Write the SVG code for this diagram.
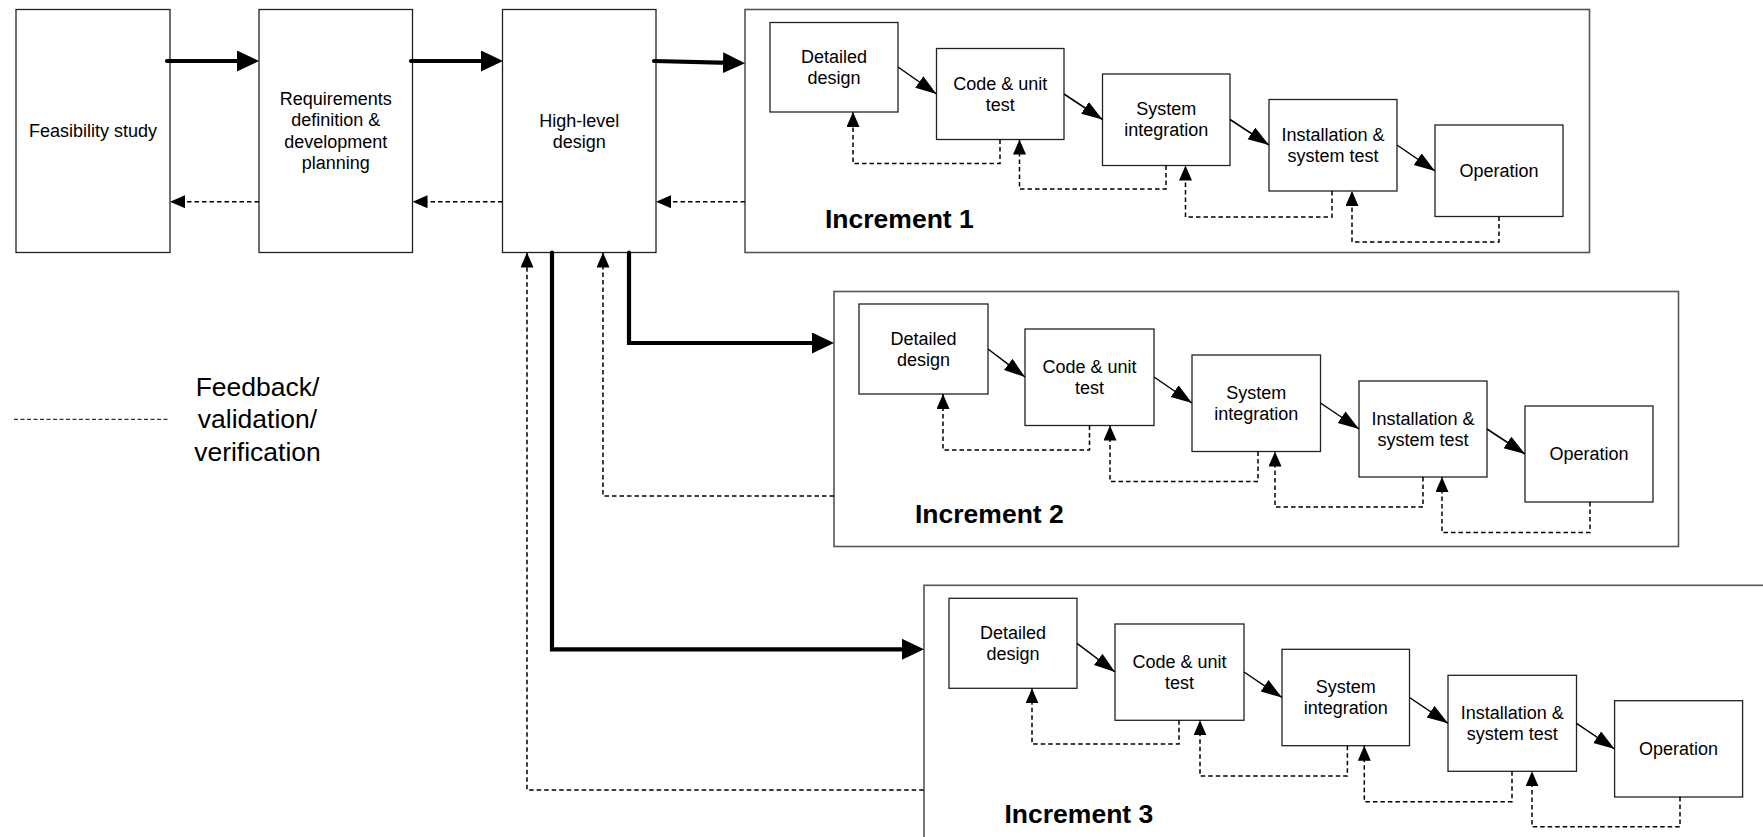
<svg xmlns="http://www.w3.org/2000/svg" width="1763" height="837" viewBox="0 0 1763 837">
  <style>
    .box { fill: #fff; stroke: #222; stroke-width: 1.3; }
    .frame { fill: #fff; stroke: #555; stroke-width: 1.6; }
    .lbl { font-family: "Liberation Sans", Arial, sans-serif; font-size: 18px; text-anchor: middle; fill: #000; }
    .inc { font-family: "Liberation Sans", Arial, sans-serif; font-size: 26.5px; font-weight: bold; fill: #000; }
    .legend { font-family: "Liberation Sans", Arial, sans-serif; font-size: 26.5px; text-anchor: middle; fill: #000; }
    .flow { fill: none; stroke: #000; stroke-width: 1.5; marker-end: url(#ah); }
    .fb { fill: none; stroke: #000; stroke-width: 1.5; stroke-dasharray: 4.5 3; marker-end: url(#ahd); }
    .main { fill: none; stroke: #000; stroke-width: 4.2; stroke-linecap: round; stroke-linejoin: miter; marker-end: url(#ahb); }
  </style>
  <defs>
    <!-- thin solid arrowhead -->
    <marker id="ah" markerUnits="userSpaceOnUse" markerWidth="22" markerHeight="15" refX="21" refY="7" orient="auto">
      <path d="M0,0 L21,7 L0,14 Z" fill="#000"/>
    </marker>
    <!-- dashed feedback arrowhead -->
    <marker id="ahd" markerUnits="userSpaceOnUse" markerWidth="16" markerHeight="14" refX="15" refY="6.5" orient="auto">
      <path d="M0,0 L15,6.5 L0,13 Z" fill="#000"/>
    </marker>
    <!-- thick arrowhead; tip lies 15 units past the line end -->
    <marker id="ahb" markerUnits="userSpaceOnUse" markerWidth="23" markerHeight="21" refX="7" refY="10.5" orient="auto">
      <path d="M0,0 L22,10.5 L0,21 Z" fill="#000"/>
    </marker>
  </defs>

  <rect width="1763" height="837" fill="#fff"/>

  <!-- Increment frames -->
  <g id="increment1">
    <rect class="frame" x="745" y="9.5" width="844.5" height="243"/>
    <text class="inc" x="825" y="228">Increment 1</text>
  </g>
  <g id="increment2">
    <rect class="frame" x="834" y="291.5" width="844.5" height="255"/>
    <text class="inc" x="915" y="523">Increment 2</text>
  </g>
  <g id="increment3">
    <rect class="frame" x="924" y="585.3" width="900" height="300"/>
    <text class="inc" x="1004.5" y="823">Increment 3</text>
  </g>

  <!-- Top-level phases -->
  <g id="feasibility">
    <rect class="box" x="16" y="9.5" width="154" height="243"/>
    <text class="lbl" x="93" y="137">Feasibility study</text>
  </g>
  <g id="requirements">
    <rect class="box" x="259" y="9.5" width="153.5" height="243"/>
    <text class="lbl" x="335.7" y="104.7">Requirements</text>
    <text class="lbl" x="335.7" y="126.2">definition &amp;</text>
    <text class="lbl" x="335.7" y="147.7">development</text>
    <text class="lbl" x="335.7" y="169.2">planning</text>
  </g>
  <g id="high-level-design">
    <rect class="box" x="502.5" y="9.5" width="153.5" height="243"/>
    <text class="lbl" x="579.2" y="126.5">High-level</text>
    <text class="lbl" x="579.2" y="147.5">design</text>
  </g>

  <!-- Increment 1 steps -->
  <g id="i1-detailed">
    <rect class="box" x="770" y="22.5" width="128" height="89.5"/>
    <text class="lbl" x="834" y="62.5">Detailed</text>
    <text class="lbl" x="834" y="83.5">design</text>
  </g>
  <g id="i1-code">
    <rect class="box" x="936.5" y="48.5" width="127.5" height="91"/>
    <text class="lbl" x="1000.2" y="89.5">Code &amp; unit</text>
    <text class="lbl" x="1000.2" y="110.5">test</text>
  </g>
  <g id="i1-integration">
    <rect class="box" x="1102.5" y="74" width="127.5" height="91.5"/>
    <text class="lbl" x="1166.2" y="115.3">System</text>
    <text class="lbl" x="1166.2" y="136.3">integration</text>
  </g>
  <g id="i1-installation">
    <rect class="box" x="1269" y="99.5" width="128" height="91.5"/>
    <text class="lbl" x="1333" y="140.8">Installation &amp;</text>
    <text class="lbl" x="1333" y="161.8">system test</text>
  </g>
  <g id="i1-operation">
    <rect class="box" x="1435" y="125" width="128" height="91.5"/>
    <text class="lbl" x="1499" y="177">Operation</text>
  </g>

  <!-- Increment 2 steps -->
  <g id="i2-detailed">
    <rect class="box" x="859" y="304" width="129" height="90"/>
    <text class="lbl" x="923.5" y="344.5">Detailed</text>
    <text class="lbl" x="923.5" y="365.5">design</text>
  </g>
  <g id="i2-code">
    <rect class="box" x="1025" y="329" width="129" height="96.5"/>
    <text class="lbl" x="1089.5" y="372.7">Code &amp; unit</text>
    <text class="lbl" x="1089.5" y="393.7">test</text>
  </g>
  <g id="i2-integration">
    <rect class="box" x="1192" y="355" width="128.5" height="96.5"/>
    <text class="lbl" x="1256.2" y="398.7">System</text>
    <text class="lbl" x="1256.2" y="419.7">integration</text>
  </g>
  <g id="i2-installation">
    <rect class="box" x="1359" y="381" width="128" height="96"/>
    <text class="lbl" x="1423" y="424.5">Installation &amp;</text>
    <text class="lbl" x="1423" y="445.5">system test</text>
  </g>
  <g id="i2-operation">
    <rect class="box" x="1525" y="406" width="128" height="96"/>
    <text class="lbl" x="1589" y="460.3">Operation</text>
  </g>

  <!-- Increment 3 steps -->
  <g id="i3-detailed">
    <rect class="box" x="949" y="598.3" width="128" height="90"/>
    <text class="lbl" x="1013" y="638.8">Detailed</text>
    <text class="lbl" x="1013" y="659.8">design</text>
  </g>
  <g id="i3-code">
    <rect class="box" x="1115" y="624" width="129" height="96.3"/>
    <text class="lbl" x="1179.5" y="667.6">Code &amp; unit</text>
    <text class="lbl" x="1179.5" y="688.6">test</text>
  </g>
  <g id="i3-integration">
    <rect class="box" x="1282" y="649.3" width="127.5" height="96.4"/>
    <text class="lbl" x="1345.7" y="693">System</text>
    <text class="lbl" x="1345.7" y="714">integration</text>
  </g>
  <g id="i3-installation">
    <rect class="box" x="1448" y="675.3" width="128.5" height="96"/>
    <text class="lbl" x="1512.2" y="718.8">Installation &amp;</text>
    <text class="lbl" x="1512.2" y="739.8">system test</text>
  </g>
  <g id="i3-operation">
    <rect class="box" x="1614.6" y="700.7" width="128" height="96.3"/>
    <text class="lbl" x="1678.6" y="755">Operation</text>
  </g>

  <!-- Legend -->
  <g id="legend">
    <line x1="14" y1="419.3" x2="168.3" y2="419.3" stroke="#000" stroke-width="1" stroke-dasharray="4 2.5"/>
    <text class="legend" x="257.5" y="395.5">Feedback/</text>
    <text class="legend" x="257.5" y="428">validation/</text>
    <text class="legend" x="257.5" y="460.5">verification</text>
  </g>

  <!-- Connectors -->
  <g id="connectors">
    <!-- main forward flow -->
    <path class="main" d="M167,61 H244"/>
    <path class="main" d="M411,61 H488"/>
    <path class="main" d="M654,61 L730,62.8"/>
    <path class="main" d="M629,252.5 V343 H819"/>
    <path class="main" d="M552,252.5 V649.3 H909"/>

    <!-- top-level feedback -->
    <path class="fb" d="M259,201.7 H170"/>
    <path class="fb" d="M502.5,201.7 H412.5"/>
    <path class="fb" d="M745,201.7 H656"/>
    <path class="fb" d="M834,496 H603 V252.5"/>
    <path class="fb" d="M923.7,790 H527 V252.5"/>

    <!-- increment 1 -->
    <path class="flow" d="M898,67 L936.5,94"/>
    <path class="flow" d="M1064,94 L1102.5,119.5"/>
    <path class="flow" d="M1230,119.5 L1269,145"/>
    <path class="flow" d="M1397,145 L1435,171"/>
    <path class="fb" d="M1000,139.5 V163.5 H853 V112"/>
    <path class="fb" d="M1166,165.5 V189 H1019.5 V139.5"/>
    <path class="fb" d="M1332,191 V217 H1185.5 V165.5"/>
    <path class="fb" d="M1499,216.5 V242 H1352 V191"/>

    <!-- increment 2 -->
    <path class="flow" d="M988,349 L1025,377"/>
    <path class="flow" d="M1154,377 L1192,403"/>
    <path class="flow" d="M1320.5,403 L1359,429"/>
    <path class="flow" d="M1487,429 L1525,454"/>
    <path class="fb" d="M1089.5,425.5 V450 H943 V394"/>
    <path class="fb" d="M1258,451.5 V481.5 H1110 V425.5"/>
    <path class="fb" d="M1423,477 V507 H1275 V451.5"/>
    <path class="fb" d="M1590,502 V532.5 H1442 V477"/>

    <!-- increment 3 -->
    <path class="flow" d="M1077,643.3 L1115,672"/>
    <path class="flow" d="M1244,672 L1282,697.5"/>
    <path class="flow" d="M1409.5,697.5 L1448,723.3"/>
    <path class="flow" d="M1576.5,723.3 L1614.6,749"/>
    <path class="fb" d="M1179,720.3 V744 H1032 V688.3"/>
    <path class="fb" d="M1347.4,745.7 V776 H1200 V720.3"/>
    <path class="fb" d="M1512,771.3 V801.7 H1364.3 V745.7"/>
    <path class="fb" d="M1680,797 V826.7 H1532 V771.3"/>
  </g>
</svg>
